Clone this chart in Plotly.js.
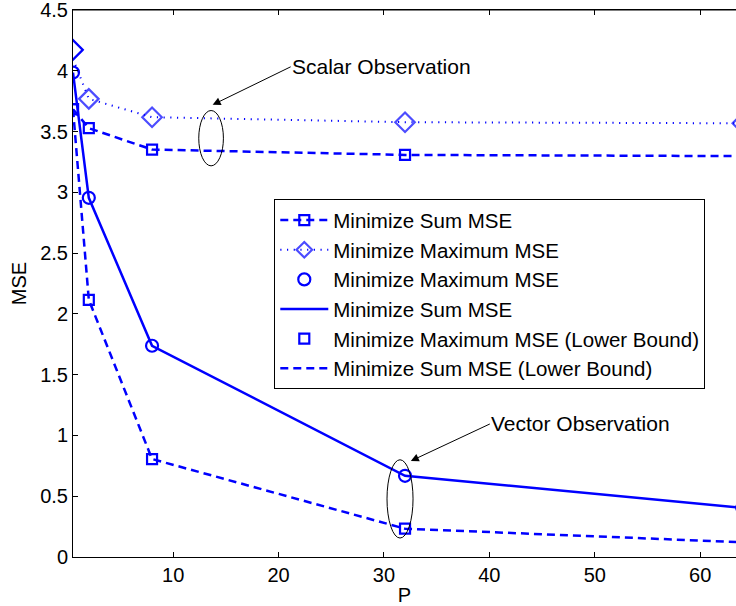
<!DOCTYPE html>
<html>
<head>
<meta charset="utf-8">
<script src="https://cdn.plot.ly/plotly-3.0.1.min.js"></script>
<style>html,body{margin:0;padding:0;background:#fff;overflow:hidden}#plot{width:736px;height:606px}</style>
</head>
<body>
<div id="plot"></div>
<script>
// Data
var P = [0.5, 2, 8, 32, 64];
var scalarSumMSE = [3.684, 3.528, 3.352, 3.308, 3.298];
var scalarMaxLine = [4.10, 3.769, 3.618, 3.577, 3.568];
var scalarMaxDiamond = [4.172, 3.769, 3.618, 3.577, 3.568];
var vectorMaxMSE = [3.985, 2.955, 1.738, 0.668, 0.405];
var vectorSumMSE = [3.985, 2.955, 1.738, 0.668, 0.405];
var lowerMax = [3.684, 2.116, 0.806, 0.233, 0.121];
var lowerSum = [3.684, 2.116, 0.806, 0.233, 0.121];
var xTicks = [10, 20, 30, 40, 50, 60];
var yTicks = [0, 0.5, 1, 1.5, 2, 2.5, 3, 3.5, 4, 4.5];
var names = ['Minimize Sum MSE', 'Minimize Maximum MSE', 'Minimize Maximum MSE',
             'Minimize Sum MSE', 'Minimize Maximum MSE (Lower Bound)', 'Minimize Sum MSE (Lower Bound)'];

var BLUE = '#0000ff';
var F = 'Liberation Sans';

var traces = [
  {x: P, y: scalarSumMSE, name: names[0], mode: 'lines+markers',
   line: {color: BLUE, width: 2.5, dash: '8px,5px'},
   marker: {symbol: 'square-open', size: 10, color: BLUE, line: {width: 2.2, color: BLUE}}},
  {x: P, y: scalarMaxLine, name: names[1], mode: 'lines+markers',
   line: {color: BLUE, width: 2, dash: '1.2px,5.5px'},
   marker: {symbol: 'diamond-open', size: [0, 15, 15, 15, 15], color: BLUE, line: {width: 2.2, color: BLUE}}},
  {x: P.slice(0, 1), y: scalarMaxDiamond.slice(0, 1), name: names[1], mode: 'markers', showlegend: false,
   marker: {symbol: 'diamond-open', size: 15, color: BLUE, line: {width: 2.2, color: BLUE}}},
  {x: P, y: vectorMaxMSE, name: names[2], mode: 'markers',
   marker: {symbol: 'circle-open', size: 12, color: BLUE, line: {width: 2.2, color: BLUE}}},
  {x: P, y: vectorSumMSE, name: names[3], mode: 'lines',
   line: {color: BLUE, width: 2.5}},
  {x: P, y: lowerMax, name: names[4], mode: 'markers',
   marker: {symbol: 'square-open', size: 10, color: BLUE, line: {width: 2.2, color: BLUE}}},
  {x: P, y: lowerSum, name: names[5], mode: 'lines',
   line: {color: BLUE, width: 2.5, dash: '8px,5px'}},
  {x: [], y: [], xaxis: 'x2', yaxis: 'y', mode: 'lines', showlegend: false, hoverinfo: 'skip'}
];

var layout = {
  width: 736, height: 606,
  margin: {l: 73, r: 0, t: 10, b: 49},
  paper_bgcolor: '#fff', plot_bgcolor: '#fff',
  font: {size: 20, color: '#000'},
  showlegend: true,
  legend: {x: 0.3036, y: 0.654, xanchor: 'left', yanchor: 'top',
           bgcolor: '#fff', bordercolor: '#000', borderwidth: 1, itemwidth: 48,
           font: {family: F, size: 20.5, color: '#000'}, tracegroupgap: 0},
  xaxis: {range: [0.5, 63.4], tickvals: xTicks, ticktext: xTicks.map(String),
          ticks: 'inside', ticklen: 5, tickcolor: '#000', showline: true, linecolor: '#000',
          mirror: 'allticks', showgrid: false, zeroline: false,
          tickfont: {family: F, size: 20, color: '#000'},
          title: {text: 'P', font: {family: F, size: 20, color: '#000'}, standoff: 2}},
  xaxis2: {range: [0.5, 63.4], overlaying: 'x', side: 'top', anchor: 'y', tickvals: xTicks,
           showticklabels: false, ticks: 'inside', ticklen: 5, tickcolor: '#000',
           showline: true, linecolor: '#000', showgrid: false, zeroline: false},
  yaxis: {range: [0, 4.5], tickvals: yTicks, ticktext: yTicks.map(String), ticklabeloverflow: 'allow',
          ticks: 'inside', ticklen: 5, tickcolor: '#000', showline: true, linecolor: '#000',
          showgrid: false, zeroline: false,
          tickfont: {family: F, size: 20, color: '#000'},
          title: {text: 'MSE', font: {family: F, size: 20, color: '#000'}, standoff: 8}},
  shapes: [
    {type: 'line', xref: 'paper', yref: 'paper', x0: 0, x1: 1, y0: 1, y1: 1,
     line: {color: '#000', width: 1.2}},
    {type: 'circle', xref: 'x', yref: 'y', x0: 12.43, x1: 14.77, y0: 3.218, y1: 3.673,
     line: {color: '#000', width: 1}},
    {type: 'circle', xref: 'x', yref: 'y', x0: 30.29, x1: 32.76, y0: 0.156, y1: 0.800,
     line: {color: '#000', width: 1}}
  ],
  annotations: [
    {x: 13.75, y: 3.72, xref: 'x', yref: 'y', text: 'Scalar Observation', showarrow: true,
     axref: 'pixel', ayref: 'pixel', ax: 78, ay: -38, xanchor: 'left', yanchor: 'middle',
     arrowhead: 2, arrowsize: 1.6, arrowwidth: 1, arrowcolor: '#000', borderpad: 0,
     font: {family: F, size: 21, color: '#000'}},
    {x: 32.55, y: 0.79, xref: 'x', yref: 'y', text: 'Vector Observation', showarrow: true,
     axref: 'pixel', ayref: 'pixel', ax: 79, ay: -37, xanchor: 'left', yanchor: 'middle',
     arrowhead: 2, arrowsize: 1.6, arrowwidth: 1, arrowcolor: '#000', borderpad: 0,
     font: {family: F, size: 21, color: '#000'}}
  ]
};

var cfg = {displayModeBar: false, staticPlot: true};
Plotly.newPlot('plot', traces, layout, cfg).then(function () {
  var ready = (document.fonts && document.fonts.ready) ? document.fonts.ready : Promise.resolve();
  return ready;
}).then(function () {
  return Plotly.react('plot', traces, layout, cfg);
});
</script>
</body>
</html>
